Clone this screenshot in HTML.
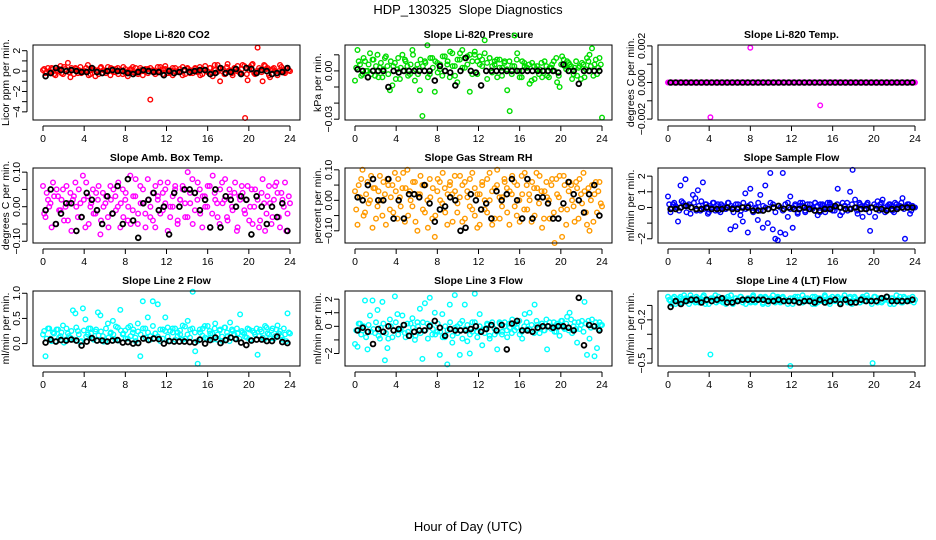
<!DOCTYPE html>
<html><head><meta charset="utf-8"><style>
html,body{margin:0;padding:0;background:#fff;}
svg{display:block;font-family:"Liberation Sans",Arial,sans-serif;}
</style></head><body>
<svg id="c" width="936" height="540" viewBox="0 0 936 540">
<text x="468" y="14" text-anchor="middle" font-size="13" xml:space="preserve">HDP_130325  Slope Diagnostics</text>
<text x="468" y="531" text-anchor="middle" font-size="13">Hour of Day (UTC)</text>
</svg>
<script>
const xTicks = [0,4,8,12,16,20,24];
const co2Vals = [0.1,-0.2,0.3,-0.1,0.2,-0.4,0.0,0.5,-0.3,0.2,0.8,-0.6,0.1,0.3,-0.2,0.4,-0.1,0.0,0.6,-0.3,0.2,-0.5,0.1,0.3,-0.2,0.0,0.4,-0.4,0.2,-0.1,0.3,0.0,-0.3,0.2,-0.5,0.1,0.4,-0.2,0.0,0.3,-0.4,0.1,0.2,-2.8,0.0,-0.3,0.4,-0.1,0.2,0.5,-0.2,0.1,-0.4,0.3,0.0,-0.1,0.4,-0.3,0.2,0.1,-0.2,0.3,0.0,-0.4,0.2,0.5,-0.1,0.3,-0.5,0.1,0.6,-1.0,0.2,-0.3,0.7,0.0,-0.4,0.3,0.5,-0.2,0.6,-4.6,-0.9,0.4,0.7,-0.3,2.3,0.1,-1.0,0.5,0.3,-0.6,0.2,0.0,-0.4,0.6,0.1,-0.2,0.3,0.0];
const co2ValsB = [0.2,-0.1,0.0,0.3,-0.3,0.1,0.2,-0.2,0.4,0.0,-0.1,0.3,-0.3,0.2,0.1,-0.2,0.0,0.3,-0.4,0.1,0.2,0.0,-0.3,0.4,0.1,-0.2,0.0,0.3,-0.1,0.2,-0.3,0.1,0.4,-0.2,0.0,0.2,-0.1,0.3,-0.3,0.1,0.0,0.2,-0.2,0.3,0.1,-0.1,0.0,0.4,-0.3,0.2,0.1,-0.2,0.3,0.0,-0.1,0.2,-0.4,0.1,0.3,-0.2,0.0,0.2,-0.1,0.4,-0.3,0.1,0.0,0.3,-0.2,0.6,-0.1,0.2,0.0,-0.3,0.4,0.1,-0.2,0.3,0.0,-0.1,0.2,0.5,-0.3,0.1,0.6,-0.2,0.0,0.3,-0.1,0.6,0.2,-0.4,0.1,0.3,-0.2,0.0,0.4,-0.1,0.2,0.1];
const co2Mean = [-0.5,-0.2,0.3,0.1,0.0,0.1,0.0,-0.1,-0.1,0.3,-0.1,-0.2,0.0,0.1,0.0,0.0,-0.2,-0.3,-0.1,0.1,0.0,-0.1,-0.1,-0.4,0.0,-0.2,-0.1,0.1,-0.1,0.0,0.1,0.1,-0.3,-0.2,0.3,-0.2,-0.1,0.2,-0.3,0.3,0.2,-0.2,0.1,0.0,-0.3,-0.2,-0.1,0.3];
const presVals = [-0.006,0.013,0.004,-0.002,0.006,0.000,0.011,0.007,-0.003,0.010,0.002,-0.004,0.008,0.003,-0.012,-0.009,0.005,0.001,-0.005,0.010,0.007,0.003,-0.002,0.013,-0.006,0.004,-0.012,-0.028,0.006,0.016,-0.002,0.008,-0.013,0.005,0.001,-0.003,0.009,0.004,-0.004,0.011,0.003,-0.007,0.007,0.013,0.002,0.009,-0.013,0.006,0.010,-0.002,0.004,0.007,0.019,-0.005,0.008,0.003,0.006,-0.004,0.007,0.002,0.006,-0.012,-0.025,0.003,0.022,0.011,-0.004,0.006,0.003,0.002,-0.008,0.005,-0.005,0.003,0.001,-0.004,0.006,-0.003,0.002,0.004,0.000,-0.007,-0.010,0.009,0.003,0.006,0.004,-0.005,0.002,-0.003,0.003,0.005,-0.004,0.008,0.010,0.014,0.004,-0.002,0.008,-0.029];
const presValsB = [0.002,0.006,-0.003,0.008,0.000,0.004,-0.002,0.007,0.003,-0.004,0.005,0.001,0.009,-0.002,0.006,0.003,-0.005,0.008,0.002,0.000,0.006,-0.003,0.004,0.010,0.001,-0.002,0.007,0.003,0.005,-0.004,0.008,0.002,0.006,-0.001,0.004,0.009,0.000,0.006,0.012,0.003,-0.003,0.007,0.011,0.002,0.008,0.004,0.010,-0.002,0.012,0.006,0.009,0.003,0.011,0.005,0.008,-0.001,0.004,0.007,0.002,-0.003,0.005,0.001,0.006,-0.002,0.003,0.007,0.000,-0.004,0.005,0.002,0.004,-0.006,0.003,0.001,-0.002,0.005,0.000,0.003,-0.004,0.002,0.006,0.008,-0.003,0.004,0.007,0.001,0.005,0.003,-0.002,0.006,0.002,-0.005,0.004,0.001,0.006,0.003,-0.003,0.007,0.002,0.004];
const presMean = [0.001,0.000,-0.004,0.000,0.000,0.000,-0.010,0.000,-0.001,0.000,0.000,0.000,0.000,0.000,0.000,-0.006,0.003,0.000,-0.001,-0.009,0.000,0.008,0.000,-0.001,-0.009,0.000,0.000,0.000,0.000,0.000,0.000,0.000,0.000,0.000,0.000,0.000,0.000,0.000,0.000,-0.001,0.004,0.000,0.000,-0.008,0.000,0.000,0.000,0.000];
const tempVals = [0,0,0,0,0,0,0,0,0,0,0,0,0,0,0,0,0,-0.0019,0,0,0,0,0,0,0,0,0,0,0,0,0,0,0,0.0019,0,0,0,0,0,0,0,0,0,0,0,0,0,0,0,0,0,0,0,0,0,0,0,0,0,0,0,-0.00125,0,0,0,0,0,0,0,0,0,0,0,0,0,0,0,0,0,0,0,0,0,0,0,0,0,0,0,0,0,0,0,0,0,0,0,0,0,0];
const tempValsB = [0,0,0,0,0,0,0,0,0,0,0,0,0,0,0,0,0,0,0,0,0,0,0,0,0,0,0,0,0,0,0,0,0,0,0,0,0,0,0,0,0,0,0,0,0,0,0,0,0,0,0,0,0,0,0,0,0,0,0,0,0,0,0,0,0,0,0,0,0,0,0,0,0,0,0,0,0,0,0,0,0,0,0,0,0,0,0,0,0,0,0,0,0,0,0,0,0,0,0,0];
const tempMean = [0,0,0,0,0,0,0,0,0,0,0,0,0,0,0,0,0,0,0,0,0,0,0,0,0,0,0,0,0,0,0,0,0,0,0,0,0,0,0,0,0,0,0,0,0,0,0,0];
const ambVals = [0.06,-0.03,0.02,0.01,0.07,-0.05,0.03,-0.01,0.05,0.00,-0.04,0.04,0.02,0.07,-0.03,0.01,0.09,-0.06,0.03,0.00,0.05,-0.02,0.02,-0.08,0.04,0.01,-0.03,0.06,-0.02,0.03,0.00,-0.06,0.05,0.02,-0.04,0.09,-0.01,0.03,-0.05,0.06,0.01,-0.02,0.08,-0.03,0.04,-0.06,0.02,0.07,-0.01,0.05,-0.07,0.00,0.03,0.06,-0.04,0.02,0.05,-0.03,0.10,0.01,-0.05,0.04,0.07,-0.02,0.03,0.00,0.06,-0.06,0.09,0.02,-0.03,0.05,0.01,0.08,-0.04,0.03,-0.01,0.07,-0.06,0.02,0.04,-0.02,0.06,0.00,-0.05,0.05,0.02,-0.04,0.08,-0.07,0.03,0.01,-0.03,0.06,0.04,-0.06,0.02,0.07,-0.02,0.01];
const ambValsB = [-0.02,0.04,0.00,-0.06,0.03,0.05,-0.01,0.02,-0.04,0.06,0.01,-0.07,0.03,0.00,0.05,-0.03,0.02,0.07,-0.05,0.01,-0.02,0.04,0.06,-0.04,0.00,0.03,-0.06,0.02,0.05,-0.01,0.07,0.01,-0.03,0.04,0.00,-0.05,0.03,0.08,-0.02,0.01,0.05,-0.06,0.02,0.00,-0.04,0.06,0.03,-0.02,0.04,0.01,0.07,-0.03,0.00,0.05,-0.05,0.02,0.06,0.01,-0.03,0.04,0.08,-0.01,0.02,0.05,-0.06,0.03,0.00,0.06,-0.02,0.04,0.01,-0.05,0.07,0.02,-0.03,0.05,0.00,0.04,-0.07,0.03,0.06,-0.01,0.02,-0.04,0.05,0.00,0.03,-0.06,0.04,0.01,-0.02,0.06,-0.05,0.02,0.07,-0.03,0.04,0.00,-0.07,0.03];
const ambMean = [-0.01,0.05,-0.05,-0.02,0.01,0.01,-0.07,-0.03,0.04,0.02,-0.01,-0.05,0.03,-0.02,0.06,-0.05,0.08,-0.04,-0.09,0.01,0.02,0.04,-0.01,0.00,-0.08,0.04,0.00,0.05,0.05,0.04,-0.01,0.02,-0.06,0.05,-0.06,0.03,0.02,0.00,0.03,0.02,-0.08,0.03,0.00,-0.05,0.00,-0.03,0.01,-0.07];
const rhVals = [0.03,-0.08,0.01,0.10,-0.04,0.06,0.00,-0.09,0.04,-0.02,0.08,-0.05,0.02,0.07,-0.03,0.05,0.09,-0.06,0.01,0.04,-0.07,0.10,0.03,-0.02,0.06,-0.10,0.02,0.05,-0.04,0.00,0.07,-0.06,-0.12,0.03,0.06,-0.01,0.04,-0.08,0.05,0.02,0.08,-0.04,0.01,-0.07,0.06,0.03,-0.02,0.09,-0.05,-0.09,0.02,0.05,-0.03,0.07,0.00,-0.08,0.04,0.10,-0.06,0.01,0.06,-0.04,0.03,0.08,-0.02,0.05,-0.07,0.02,0.09,-0.03,0.00,0.06,-0.05,0.04,0.08,-0.09,0.03,0.01,-0.06,0.07,-0.14,0.02,0.08,-0.12,0.05,-0.03,0.06,0.00,-0.07,0.04,0.07,-0.01,0.03,-0.08,-0.10,0.05,0.02,-0.04,0.06,-0.02];
const rhValsB = [-0.03,0.05,0.07,-0.05,0.02,-0.01,0.08,0.04,-0.06,0.03,0.00,0.06,-0.08,0.05,0.01,-0.04,0.03,0.07,-0.02,0.09,0.04,-0.05,0.00,0.06,-0.07,0.02,0.08,-0.03,0.05,-0.09,0.01,0.04,-0.05,0.07,0.00,0.09,-0.04,0.02,0.06,-0.07,0.03,-0.01,0.08,0.05,-0.06,0.01,0.07,-0.03,0.04,0.02,-0.08,0.06,0.00,-0.04,0.09,0.03,-0.06,0.05,0.01,-0.02,0.07,0.04,-0.08,0.02,0.06,-0.05,0.00,0.08,-0.03,0.05,0.02,-0.07,0.04,0.09,-0.01,0.03,-0.06,0.06,0.00,0.05,-0.04,0.07,0.01,-0.03,0.08,-0.08,0.03,0.05,-0.02,0.06,-0.06,0.02,0.09,-0.04,0.04,0.00,-0.07,0.06,0.03,-0.01];
const rhMean = [0.01,0.00,0.05,0.07,0.00,0.00,0.07,-0.06,0.00,-0.06,0.02,0.02,0.01,0.05,-0.01,-0.07,-0.03,-0.02,0.01,0.00,-0.10,-0.09,0.02,0.00,-0.03,-0.01,-0.06,0.03,0.00,0.02,0.07,0.00,-0.06,0.07,-0.06,0.01,0.01,-0.01,-0.06,-0.06,-0.01,0.06,0.02,0.00,-0.04,0.02,0.05,-0.05];
const flowVals = [0.7,-0.3,0.2,0.1,-0.9,1.4,0.3,1.8,0.1,-0.4,0.8,0.6,1.1,-0.2,1.6,0.2,-0.4,0.1,0.3,-0.2,0.2,-0.3,0.1,-0.1,0.3,-1.4,0.0,-1.2,0.2,-0.5,-0.9,0.9,-1.6,1.2,-0.2,-0.1,-0.8,0.8,-1.3,1.4,-1.0,2.2,-1.4,-2.0,-2.1,-1.6,2.2,-1.7,-0.6,0.7,-1.3,0.1,-0.4,0.3,0.1,-0.3,0.2,-0.1,0.0,0.3,-0.5,0.2,0.1,-0.3,0.3,0.2,-0.2,0.0,1.2,-0.5,0.3,0.1,-0.2,1.0,2.4,0.5,-0.4,0.2,-0.6,0.1,0.3,-1.5,0.0,-0.6,0.4,0.2,0.5,-0.3,0.1,0.2,-0.2,0.3,0.0,0.1,0.6,-2.0,0.2,-0.4,0.1,0.0];
const flowValsB = [0.2,-0.1,0.3,0.0,-0.2,0.4,0.1,-0.3,0.2,0.0,0.3,-0.2,0.1,0.4,-0.1,0.2,-0.3,0.0,0.3,0.1,-0.2,0.2,0.0,-0.1,0.3,0.1,-0.3,0.2,0.0,-0.2,0.3,-0.1,0.1,0.2,-0.3,0.0,0.3,-0.2,0.1,0.0,-0.1,0.3,0.2,-0.3,0.1,0.0,-0.2,0.2,0.3,-0.1,0.0,0.2,-0.3,0.1,0.3,-0.2,0.0,0.2,-0.1,0.3,0.1,-0.3,0.2,0.0,-0.1,0.3,0.1,-0.2,0.2,0.0,-0.3,0.1,0.3,-0.1,0.2,0.0,-0.2,0.3,0.1,-0.1,0.2,-0.3,0.0,0.2,0.1,-0.2,0.3,0.0,-0.1,0.2,0.1,-0.3,0.2,0.0,0.3,-0.1,0.1,0.2,-0.2,0.0];
const flowMean = [-0.1,-0.1,0.0,0.1,0.0,-0.1,-0.1,0.0,-0.1,-0.1,-0.1,0.0,-0.1,-0.1,0.0,0.0,-0.2,-0.2,-0.2,-0.1,0.0,0.1,-0.1,0.0,-0.1,-0.1,0.0,-0.1,-0.2,-0.2,-0.1,-0.1,0.1,0.0,-0.1,-0.1,0.0,-0.1,-0.1,0.0,-0.1,-0.1,-0.2,-0.1,-0.1,0.0,0.0,0.0];
const l2Vals = [0.18,-0.25,0.30,0.10,0.22,0.05,0.28,0.15,0.36,0.08,0.20,0.12,0.66,0.60,0.25,0.03,0.70,0.48,0.18,0.30,0.10,0.24,0.62,0.56,0.15,0.05,0.40,0.20,0.45,0.08,0.32,0.67,0.18,0.26,0.10,0.35,0.22,0.12,0.40,-0.25,0.84,0.30,0.52,0.15,0.84,0.20,0.78,0.05,0.28,0.52,0.14,0.25,0.30,0.08,0.22,0.18,0.36,0.10,0.45,0.28,1.03,-0.15,-0.40,0.22,0.30,0.12,0.35,0.20,0.08,0.40,0.18,0.28,0.05,0.32,0.15,0.42,0.25,0.10,0.20,0.58,0.22,0.14,0.30,0.08,0.25,0.18,-0.22,0.28,0.12,0.35,0.20,0.10,0.30,0.15,0.36,0.25,0.08,0.18,0.60,0.20];
const l2ValsB = [0.25,0.10,0.30,0.05,0.20,0.28,0.12,0.22,0.02,0.30,0.15,0.25,0.08,0.32,0.18,0.05,0.26,0.14,0.30,0.20,0.08,0.28,0.16,0.24,0.04,0.30,0.12,0.22,0.18,0.34,0.06,0.26,0.20,0.10,0.32,0.15,0.28,0.05,0.24,0.18,0.30,0.12,0.22,0.08,0.35,0.20,0.14,0.28,0.10,0.25,0.32,0.05,0.22,0.30,0.15,0.26,0.08,0.34,0.18,0.12,0.30,0.22,0.05,0.28,0.16,0.35,0.10,0.25,0.20,0.30,0.08,0.26,0.14,0.32,0.22,0.05,0.28,0.18,0.30,0.10,0.25,0.20,0.12,0.28,0.06,0.22,0.30,0.15,0.24,0.08,0.32,0.18,0.26,0.10,0.28,0.20,0.14,0.30,0.05,0.22];
const l2Mean = [0.02,0.08,0.04,0.07,0.06,0.08,0.06,-0.04,0.04,0.11,0.06,0.06,0.04,0.06,0.07,0.02,0.03,0.00,0.01,0.10,0.07,0.10,0.09,0.00,0.05,0.04,0.04,0.04,0.03,0.02,0.08,0.00,0.07,0.12,0.01,0.07,0.12,0.09,0.02,-0.03,0.06,0.08,0.08,0.05,0.05,0.14,0.03,0.01];
const l3Vals = [-1.3,-1.5,0.2,-0.3,1.9,-1.7,0.8,1.9,-0.5,1.2,-0.9,1.8,-2.5,-1.6,0.5,-0.8,2.2,0.9,-0.3,0.8,-0.5,0.2,-0.7,0.6,-1.0,0.3,1.3,-2.4,1.7,0.2,2.1,-0.6,1.0,-0.4,-2.1,0.9,-0.8,-2.8,1.6,-1.2,2.3,0.0,-2.1,0.4,1.6,-1.1,-2.0,0.3,2.4,-0.4,0.9,-1.4,-0.2,0.1,-0.9,0.3,-0.6,-1.7,0.2,-0.4,0.3,-0.8,-0.1,0.5,-0.3,0.2,-0.6,-0.9,0.9,-0.2,1.0,-0.4,1.6,0.1,-0.5,0.2,-0.3,-1.7,0.3,0.0,-0.4,0.2,-0.7,0.4,-0.2,0.7,1.0,-0.5,0.3,-1.2,-0.2,0.4,1.8,-2.1,-0.9,0.5,-2.2,-1.6,0.3,0.1];
const l3ValsB = [-0.3,0.2,-0.6,0.0,-0.8,0.1,-0.4,-0.2,0.3,-0.7,-0.1,0.2,-0.5,-0.9,0.0,-0.3,0.3,-0.6,-0.2,0.1,-0.8,-0.4,0.2,-0.1,-0.7,0.0,-0.5,0.3,-0.3,-0.9,0.1,-0.2,-0.6,0.2,-0.4,-0.8,0.0,-0.3,0.3,-0.7,-0.1,-0.5,0.2,-0.9,-0.2,0.1,-0.6,-0.4,0.3,-0.8,0.0,-0.3,-0.5,0.2,-0.7,0.1,-0.2,-0.4,0.3,-0.6,0.0,-0.3,0.2,-0.5,0.1,-0.1,0.4,-0.4,0.0,0.3,-0.2,0.1,-0.5,0.4,-0.1,0.2,-0.3,0.5,0.0,-0.2,0.3,-0.4,0.1,0.4,-0.1,0.2,-0.3,0.5,0.0,-0.2,0.3,0.1,-0.4,0.2,0.4,-0.1,0.0,0.3,-0.2,0.1];
const l3Mean = [-0.3,-0.1,-0.4,-1.3,-0.2,-0.4,0.0,-0.3,-0.2,0.1,-0.7,-0.4,-0.3,-0.3,0.0,0.4,-0.1,-0.7,-0.2,-0.3,-0.3,-0.3,-0.2,0.0,-0.4,-0.2,0.1,-0.3,0.1,-1.7,0.2,0.4,-0.3,-0.3,-0.4,-0.1,0.0,0.0,-0.1,0.0,0.0,-0.1,-0.3,2.1,-1.4,0.1,0.0,-0.3];
const l4Vals = [-0.04,-0.07,-0.05,-0.09,-0.06,-0.04,-0.08,-0.05,-0.07,-0.03,-0.06,-0.08,-0.05,-0.07,-0.04,-0.09,-0.06,-0.44,-0.05,-0.03,-0.07,-0.06,-0.08,-0.05,-0.04,-0.07,-0.09,-0.05,-0.06,-0.04,-0.08,-0.06,-0.05,-0.07,-0.04,-0.08,-0.06,-0.05,-0.09,-0.04,-0.07,-0.05,-0.06,-0.08,-0.04,-0.07,-0.05,-0.06,-0.09,-0.52,-0.05,-0.07,-0.04,-0.06,-0.08,-0.05,-0.07,-0.06,-0.04,-0.09,-0.05,-0.07,-0.06,-0.04,-0.08,-0.05,-0.06,-0.07,-0.04,-0.09,-0.05,-0.06,-0.08,-0.04,-0.07,-0.05,-0.06,-0.08,-0.04,-0.07,-0.05,-0.06,-0.50,-0.04,-0.08,-0.05,-0.07,-0.06,-0.04,-0.09,-0.05,-0.07,-0.06,-0.04,-0.08,-0.05,-0.06,-0.07,-0.04,-0.06];
const l4ValsB = [-0.06,-0.09,-0.04,-0.07,-0.05,-0.08,-0.03,-0.06,-0.09,-0.05,-0.07,-0.04,-0.08,-0.06,-0.03,-0.07,-0.09,-0.05,-0.06,-0.08,-0.04,-0.07,-0.05,-0.09,-0.06,-0.03,-0.08,-0.05,-0.07,-0.04,-0.06,-0.09,-0.05,-0.08,-0.03,-0.07,-0.06,-0.04,-0.08,-0.05,-0.09,-0.06,-0.03,-0.07,-0.05,-0.08,-0.04,-0.06,-0.07,-0.05,-0.09,-0.04,-0.06,-0.08,-0.03,-0.07,-0.05,-0.06,-0.09,-0.04,-0.08,-0.05,-0.07,-0.03,-0.06,-0.09,-0.04,-0.07,-0.05,-0.08,-0.06,-0.03,-0.07,-0.05,-0.09,-0.04,-0.06,-0.08,-0.05,-0.07,-0.03,-0.06,-0.09,-0.04,-0.07,-0.05,-0.08,-0.06,-0.04,-0.07,-0.05,-0.09,-0.03,-0.06,-0.08,-0.04,-0.07,-0.05,-0.06,-0.08];
const l4Mean = [-0.11,-0.07,-0.09,-0.07,-0.06,-0.06,-0.08,-0.06,-0.07,-0.06,-0.05,-0.08,-0.08,-0.07,-0.06,-0.06,-0.06,-0.06,-0.06,-0.07,-0.07,-0.06,-0.07,-0.07,-0.07,-0.08,-0.07,-0.07,-0.08,-0.06,-0.08,-0.07,-0.06,-0.09,-0.06,-0.08,-0.08,-0.06,-0.07,-0.07,-0.07,-0.05,-0.04,-0.07,-0.07,-0.07,-0.07,-0.06];

const panels = [
 {id:'co2',col:0,row:0,title:'Slope Li-820 CO2',ylab:'Licor ppm per min.',top:2.56,bot:-4.8,ticks:[2,1,0,-1,-2,-3,-4],labels:{'2':'2','0':'0','-2':'−2','-4':'−4'},color:'#ff0000',vals:co2Vals,valsB:co2ValsB,mean:co2Mean},
 {id:'pressure',col:1,row:0,title:'Slope Li-820 Pressure',ylab:'kPa per min.',top:0.0161,bot:-0.0305,ticks:[0.01,0,-0.01,-0.02,-0.03],labels:{'0':'0.00','-0.03':'−0.03'},color:'#00dd00',vals:presVals,valsB:presValsB,mean:presMean},
 {id:'temp',col:2,row:0,title:'Slope Li-820 Temp.',ylab:'degrees C per min.',top:0.00205,bot:-0.00205,ticks:[0.002,0.001,0,-0.001,-0.002],labels:{'0.002':'0.002','0':'0.000','-0.002':'−0.002'},color:'#ff00ff',vals:tempVals,valsB:tempValsB,mean:tempMean},
 {id:'amb-temp',col:0,row:1,title:'Slope Amb. Box Temp.',ylab:'degrees C per min.',top:0.112,bot:-0.105,ticks:[0.1,0.05,0,-0.05,-0.1],labels:{'0.1':'0.10','0':'0.00','-0.1':'−0.10'},color:'#ff00ff',vals:ambVals,valsB:ambValsB,mean:ambMean},
 {id:'rh',col:1,row:1,title:'Slope Gas Stream RH',ylab:'percent per min.',top:0.106,bot:-0.14,ticks:[0.1,0.05,0,-0.05,-0.1],labels:{'0.1':'0.10','0':'0.00','-0.1':'−0.10'},color:'#ff9a00',vals:rhVals,valsB:rhValsB,mean:rhMean},
 {id:'sample-flow',col:2,row:1,title:'Slope Sample Flow',ylab:'ml/min per min.',top:2.52,bot:-2.27,ticks:[2,1,0,-1,-2],labels:{'2':'2','1':'1','0':'0','-2':'−2'},color:'#0000ff',vals:flowVals,valsB:flowValsB,mean:flowMean},
 {id:'line2',col:0,row:2,title:'Slope Line 2 Flow',ylab:'ml/min per min.',top:1.045,bot:-0.445,ticks:[1,0.5,0],labels:{'1':'1.0','0.5':'0.5','0':'0.0'},color:'#00ffff',vals:l2Vals,valsB:l2ValsB,mean:l2Mean},
 {id:'line3',col:1,row:2,title:'Slope Line 3 Flow',ylab:'ml/min per min.',top:2.6,bot:-2.92,ticks:[2,1,0,-1,-2],labels:{'2':'2','1':'1','0':'0','-2':'−2'},color:'#00ffff',vals:l3Vals,valsB:l3ValsB,mean:l3Mean},
 {id:'line4',col:2,row:2,title:'Slope Line 4 (LT) Flow',ylab:'ml/min per min.',top:0.0,bot:-0.52,ticks:[-0.1,-0.2,-0.3,-0.4,-0.5],labels:{'-0.2':'−0.2','-0.5':'−0.5'},color:'#00ffff',vals:l4Vals,valsB:l4ValsB,mean:l4Mean}
];
const NS='http://www.w3.org/2000/svg';
const svg=document.getElementById('c');
const colLeft=[33,345,658], rowTop=[45,168,291], W=267, H=75;
function mk(tag,attrs,parent){const e=document.createElementNS(NS,tag);for(const k in attrs)e.setAttribute(k,attrs[k]);parent.appendChild(e);return e;}
panels.forEach(p=>{
  const L=colLeft[p.col], T=rowTop[p.row];
  const xs=h=>L+10+h*247/24;
  const ys=v=>T+(p.top-v)/(p.top-p.bot)*H;
  const g=mk('g',{},svg);
  
  
  const t=mk('text',{x:L+W/2,y:T-7,'text-anchor':'middle','font-size':'10.5','font-weight':'bold'},g);
  t.textContent=p.title;
  
  
  const yl=mk('text',{x:0,y:0,'text-anchor':'middle','font-size':'10.5',transform:`translate(${L-24},${T+H/2}) rotate(-90)`},g);
  yl.textContent=p.ylab;
  
  
  const pts=mk('g',{fill:'none','stroke-width':'1.4'},g);
  
  
  const n=p.vals.length;
  p.vals.forEach((v,i)=>{
    const c=mk('circle',{cx:xs(i*24/(n-1)).toFixed(1),cy:ys(v).toFixed(1),r:'2.3',stroke:p.color},pts);
    
    
  });
  const nb=p.valsB.length;
  p.valsB.forEach((v,i)=>{
    const c=mk('circle',{cx:xs((i+0.5)*24/nb).toFixed(1),cy:ys(v).toFixed(1),r:'2.3',stroke:p.color},pts);
    
    
  });
  const mg=mk('g',{fill:'none','stroke-width':'1.8'},g);
  
  
  p.mean.forEach((v,i)=>{
    const c=mk('circle',{cx:xs(0.25+i*0.5).toFixed(1),cy:ys(v).toFixed(1),r:'2.4',stroke:'#000'},mg);
    
    
  });
  const box=mk('rect',{x:L,y:T,width:W,height:H,fill:'none',stroke:'#000','stroke-width':'1'},g);
  
  
  const xa=mk('g',{},g);
  
  
  mk('line',{x1:xs(0),x2:xs(24),y1:T+H+6,y2:T+H+6,stroke:'#000'},xa);
  xTicks.forEach(h=>{
    mk('line',{x1:xs(h),x2:xs(h),y1:T+H+6,y2:T+H+11,stroke:'#000'},xa);
    const tx=mk('text',{x:xs(h),y:T+H+22,'text-anchor':'middle','font-size':'10.5'},xa);
    tx.textContent=h;
    
    
  });
  const ya=mk('g',{},g);
  
  
  const tk=p.ticks;
  mk('line',{x1:L-6,x2:L-6,y1:ys(tk[0]),y2:ys(tk[tk.length-1]),stroke:'#000'},ya);
  tk.forEach(v=>{
    mk('line',{x1:L-11,x2:L-6,y1:ys(v),y2:ys(v),stroke:'#000'},ya);
    const lab=p.labels[String(v)];
    if(lab){
      const tx=mk('text',{x:0,y:0,'text-anchor':'middle','font-size':'10.5',transform:`translate(${L-13},${ys(v)}) rotate(-90)`},ya);
      tx.textContent=lab;
      
      
    }
  });
});
</script>
</body></html>
